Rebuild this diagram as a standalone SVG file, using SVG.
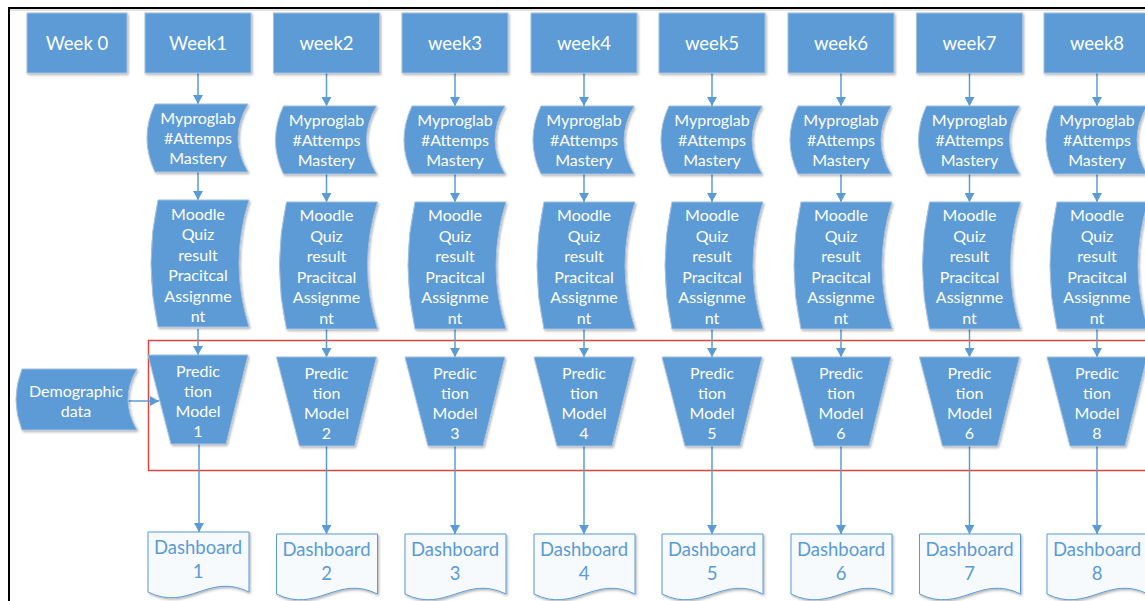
<svg xmlns="http://www.w3.org/2000/svg" xmlns:xlink="http://www.w3.org/1999/xlink" width="1145" height="601" viewBox="0 0 1145 601">
<style>
.blue{fill:#5B9BD5;stroke:#A3C0E0;stroke-width:1;filter:url(#sh)}
.doc{fill:#F6FAFD;stroke:#5B9BD5;stroke-width:1;filter:url(#sh)}
.t{font-family:Lato,"Liberation Sans",sans-serif;text-anchor:middle}
.w{fill:#FFFFFF;font-size:16px}
.wk{fill:#FFFFFF;font-size:18.5px}
.dt{fill:#5B9BD5;font-size:18.5px}
.conn{stroke:#5B9BD5;stroke-width:1.5;fill:none;marker-end:url(#ah)}
</style>
<defs>
<filter id="sh" x="-10%" y="-10%" width="130%" height="130%">
<feDropShadow dx="1.2" dy="1.5" stdDeviation="1" flood-color="#000" flood-opacity="0.3"/>
</filter>
<marker id="ah" markerUnits="userSpaceOnUse" markerWidth="9" markerHeight="10" viewBox="0 0 9 10" refX="9" refY="5" orient="auto">
<path d="M0,0 L9,5 L0,10 Z" fill="#5B9BD5"/>
</marker>
<path id="pl" d="M-43,0 L50,0 Q30,34 50,68 L-43,68 Q-59,34 -43,0 Z"/>
<path id="md" d="M-40,0 L51,0 Q31,63.5 51,127 L-40,127 Q-54,63.5 -40,0 Z"/>
<path id="tz" d="M-50,0 L50,0 L28,89 L-27,89 Z"/>
<path id="db" d="M-50,0 L51,0 L51,60 C10.6,40 -9.6,80 -50,60 Z"/>
</defs>
<rect width="1145" height="601" fill="#FFFFFF"/>
<g id="frame">
<line x1="9" y1="8" x2="1145" y2="8" stroke="#000" stroke-width="2"/>
<line x1="9" y1="7" x2="9" y2="601" stroke="#000" stroke-width="2"/>
<line x1="10" y1="10" x2="1145" y2="10" stroke="#C8C8C8" stroke-width="1"/>
</g>
<g id="red-box">
<rect x="148.5" y="340.5" width="1010" height="130" fill="none" stroke="#D9463B" stroke-width="1.5"/>
</g>
<g id="connectors">
<line class="conn" x1="198" y1="73" x2="198" y2="104"/>
<line class="conn" x1="198" y1="172" x2="198" y2="200"/>
<line class="conn" x1="198" y1="329" x2="198" y2="355"/>
<line class="conn" x1="199" y1="444" x2="199" y2="532"/>
<line class="conn" x1="326.5" y1="73" x2="326.5" y2="106"/>
<line class="conn" x1="326.5" y1="174" x2="326.5" y2="202"/>
<line class="conn" x1="326.5" y1="329" x2="326.5" y2="357"/>
<line class="conn" x1="326.5" y1="446" x2="326.5" y2="534"/>
<line class="conn" x1="455" y1="73" x2="455" y2="106"/>
<line class="conn" x1="455" y1="174" x2="455" y2="202"/>
<line class="conn" x1="455" y1="329" x2="455" y2="357"/>
<line class="conn" x1="455" y1="446" x2="455" y2="534"/>
<line class="conn" x1="584" y1="73" x2="584" y2="106"/>
<line class="conn" x1="584" y1="174" x2="584" y2="202"/>
<line class="conn" x1="584" y1="329" x2="584" y2="357"/>
<line class="conn" x1="584" y1="446" x2="584" y2="534"/>
<line class="conn" x1="712" y1="73" x2="712" y2="106"/>
<line class="conn" x1="712" y1="174" x2="712" y2="202"/>
<line class="conn" x1="712" y1="329" x2="712" y2="357"/>
<line class="conn" x1="712" y1="446" x2="712" y2="534"/>
<line class="conn" x1="841" y1="73" x2="841" y2="106"/>
<line class="conn" x1="841" y1="174" x2="841" y2="202"/>
<line class="conn" x1="841" y1="329" x2="841" y2="357"/>
<line class="conn" x1="841" y1="446" x2="841" y2="534"/>
<line class="conn" x1="969.5" y1="73" x2="969.5" y2="106"/>
<line class="conn" x1="969.5" y1="174" x2="969.5" y2="202"/>
<line class="conn" x1="969.5" y1="329" x2="969.5" y2="357"/>
<line class="conn" x1="969.5" y1="446" x2="969.5" y2="534"/>
<line class="conn" x1="1097" y1="73" x2="1097" y2="106"/>
<line class="conn" x1="1097" y1="174" x2="1097" y2="202"/>
<line class="conn" x1="1097" y1="329" x2="1097" y2="357"/>
<line class="conn" x1="1097" y1="446" x2="1097" y2="534"/>
<line class="conn" x1="128" y1="401" x2="159" y2="401"/>
</g>
<g id="week0"><rect class="blue" x="27" y="13" width="100" height="60"/><text class="t wk" x="77" y="50">Week 0</text></g>
<g id="week1"><rect class="blue" x="145" y="13" width="106" height="60"/><text class="t wk" x="198" y="50">Week1</text></g>
<g id="week2"><rect class="blue" x="273.5" y="13" width="106" height="60"/><text class="t wk" x="326.5" y="50">week2</text></g>
<g id="week3"><rect class="blue" x="402" y="13" width="106" height="60"/><text class="t wk" x="455" y="50">week3</text></g>
<g id="week4"><rect class="blue" x="531" y="13" width="106" height="60"/><text class="t wk" x="584" y="50">week4</text></g>
<g id="week5"><rect class="blue" x="659" y="13" width="106" height="60"/><text class="t wk" x="712" y="50">week5</text></g>
<g id="week6"><rect class="blue" x="788" y="13" width="106" height="60"/><text class="t wk" x="841" y="50">week6</text></g>
<g id="week7"><rect class="blue" x="916.5" y="13" width="106" height="60"/><text class="t wk" x="969.5" y="50">week7</text></g>
<g id="week8"><rect class="blue" x="1044" y="13" width="106" height="60"/><text class="t wk" x="1097" y="50">week8</text></g>

<g id="mpl1"><use class="blue" xlink:href="#pl" x="198" y="104"/><text class="t w"><tspan x="198" y="123.5">Myproglab</tspan><tspan x="198" y="143.5">#Attemps</tspan><tspan x="198" y="163.5">Mastery</tspan></text></g>
<g id="mpl2"><use class="blue" xlink:href="#pl" x="326.5" y="106"/><text class="t w"><tspan x="326.5" y="125.5">Myproglab</tspan><tspan x="326.5" y="145.5">#Attemps</tspan><tspan x="326.5" y="165.5">Mastery</tspan></text></g>
<g id="mpl3"><use class="blue" xlink:href="#pl" x="455" y="106"/><text class="t w"><tspan x="455" y="125.5">Myproglab</tspan><tspan x="455" y="145.5">#Attemps</tspan><tspan x="455" y="165.5">Mastery</tspan></text></g>
<g id="mpl4"><use class="blue" xlink:href="#pl" x="584" y="106"/><text class="t w"><tspan x="584" y="125.5">Myproglab</tspan><tspan x="584" y="145.5">#Attemps</tspan><tspan x="584" y="165.5">Mastery</tspan></text></g>
<g id="mpl5"><use class="blue" xlink:href="#pl" x="712" y="106"/><text class="t w"><tspan x="712" y="125.5">Myproglab</tspan><tspan x="712" y="145.5">#Attemps</tspan><tspan x="712" y="165.5">Mastery</tspan></text></g>
<g id="mpl6"><use class="blue" xlink:href="#pl" x="841" y="106"/><text class="t w"><tspan x="841" y="125.5">Myproglab</tspan><tspan x="841" y="145.5">#Attemps</tspan><tspan x="841" y="165.5">Mastery</tspan></text></g>
<g id="mpl7"><use class="blue" xlink:href="#pl" x="969.5" y="106"/><text class="t w"><tspan x="969.5" y="125.5">Myproglab</tspan><tspan x="969.5" y="145.5">#Attemps</tspan><tspan x="969.5" y="165.5">Mastery</tspan></text></g>
<g id="mpl8"><use class="blue" xlink:href="#pl" x="1097" y="106"/><text class="t w"><tspan x="1097" y="125.5">Myproglab</tspan><tspan x="1097" y="145.5">#Attemps</tspan><tspan x="1097" y="165.5">Mastery</tspan></text></g>

<g id="moodle1"><use class="blue" xlink:href="#md" x="198" y="200"/><text class="t w"><tspan x="198" y="219.5">Moodle</tspan><tspan x="198" y="240">Quiz</tspan><tspan x="198" y="260.5">result</tspan><tspan x="198" y="281">Pracitcal</tspan><tspan x="198" y="301.5">Assignme</tspan><tspan x="198" y="322">nt</tspan></text></g>
<g id="moodle2"><use class="blue" xlink:href="#md" x="326.5" y="202"/><text class="t w"><tspan x="326.5" y="221">Moodle</tspan><tspan x="326.5" y="241.5">Quiz</tspan><tspan x="326.5" y="262">result</tspan><tspan x="326.5" y="282.5">Pracitcal</tspan><tspan x="326.5" y="303">Assignme</tspan><tspan x="326.5" y="323.5">nt</tspan></text></g>
<g id="moodle3"><use class="blue" xlink:href="#md" x="455" y="202"/><text class="t w"><tspan x="455" y="221">Moodle</tspan><tspan x="455" y="241.5">Quiz</tspan><tspan x="455" y="262">result</tspan><tspan x="455" y="282.5">Pracitcal</tspan><tspan x="455" y="303">Assignme</tspan><tspan x="455" y="323.5">nt</tspan></text></g>
<g id="moodle4"><use class="blue" xlink:href="#md" x="584" y="202"/><text class="t w"><tspan x="584" y="221">Moodle</tspan><tspan x="584" y="241.5">Quiz</tspan><tspan x="584" y="262">result</tspan><tspan x="584" y="282.5">Pracitcal</tspan><tspan x="584" y="303">Assignme</tspan><tspan x="584" y="323.5">nt</tspan></text></g>
<g id="moodle5"><use class="blue" xlink:href="#md" x="712" y="202"/><text class="t w"><tspan x="712" y="221">Moodle</tspan><tspan x="712" y="241.5">Quiz</tspan><tspan x="712" y="262">result</tspan><tspan x="712" y="282.5">Pracitcal</tspan><tspan x="712" y="303">Assignme</tspan><tspan x="712" y="323.5">nt</tspan></text></g>
<g id="moodle6"><use class="blue" xlink:href="#md" x="841" y="202"/><text class="t w"><tspan x="841" y="221">Moodle</tspan><tspan x="841" y="241.5">Quiz</tspan><tspan x="841" y="262">result</tspan><tspan x="841" y="282.5">Pracitcal</tspan><tspan x="841" y="303">Assignme</tspan><tspan x="841" y="323.5">nt</tspan></text></g>
<g id="moodle7"><use class="blue" xlink:href="#md" x="969.5" y="202"/><text class="t w"><tspan x="969.5" y="221">Moodle</tspan><tspan x="969.5" y="241.5">Quiz</tspan><tspan x="969.5" y="262">result</tspan><tspan x="969.5" y="282.5">Pracitcal</tspan><tspan x="969.5" y="303">Assignme</tspan><tspan x="969.5" y="323.5">nt</tspan></text></g>
<g id="moodle8"><use class="blue" xlink:href="#md" x="1097" y="202"/><text class="t w"><tspan x="1097" y="221">Moodle</tspan><tspan x="1097" y="241.5">Quiz</tspan><tspan x="1097" y="262">result</tspan><tspan x="1097" y="282.5">Pracitcal</tspan><tspan x="1097" y="303">Assignme</tspan><tspan x="1097" y="323.5">nt</tspan></text></g>

<g id="demographic"><path class="blue" d="M22,369 L137,369 Q119,399.5 137,430 L22,430 Q10,399.5 22,369 Z"/><text class="t w"><tspan x="76" y="396.5">Demographic</tspan><tspan x="76" y="416.5">data</tspan></text></g>

<g id="model1"><use class="blue" xlink:href="#tz" x="198" y="355"/><text class="t w"><tspan x="198" y="377">Predic</tspan><tspan x="198" y="397">tion</tspan><tspan x="198" y="417">Model</tspan><tspan x="198" y="437">1</tspan></text></g>
<g id="model2"><use class="blue" xlink:href="#tz" x="326.5" y="357"/><text class="t w"><tspan x="326.5" y="379">Predic</tspan><tspan x="326.5" y="399">tion</tspan><tspan x="326.5" y="419">Model</tspan><tspan x="326.5" y="439">2</tspan></text></g>
<g id="model3"><use class="blue" xlink:href="#tz" x="455" y="357"/><text class="t w"><tspan x="455" y="379">Predic</tspan><tspan x="455" y="399">tion</tspan><tspan x="455" y="419">Model</tspan><tspan x="455" y="439">3</tspan></text></g>
<g id="model4"><use class="blue" xlink:href="#tz" x="584" y="357"/><text class="t w"><tspan x="584" y="379">Predic</tspan><tspan x="584" y="399">tion</tspan><tspan x="584" y="419">Model</tspan><tspan x="584" y="439">4</tspan></text></g>
<g id="model5"><use class="blue" xlink:href="#tz" x="712" y="357"/><text class="t w"><tspan x="712" y="379">Predic</tspan><tspan x="712" y="399">tion</tspan><tspan x="712" y="419">Model</tspan><tspan x="712" y="439">5</tspan></text></g>
<g id="model6"><use class="blue" xlink:href="#tz" x="841" y="357"/><text class="t w"><tspan x="841" y="379">Predic</tspan><tspan x="841" y="399">tion</tspan><tspan x="841" y="419">Model</tspan><tspan x="841" y="439">6</tspan></text></g>
<g id="model7"><use class="blue" xlink:href="#tz" x="969.5" y="357"/><text class="t w"><tspan x="969.5" y="379">Predic</tspan><tspan x="969.5" y="399">tion</tspan><tspan x="969.5" y="419">Model</tspan><tspan x="969.5" y="439">6</tspan></text></g>
<g id="model8"><use class="blue" xlink:href="#tz" x="1097" y="357"/><text class="t w"><tspan x="1097" y="379">Predic</tspan><tspan x="1097" y="399">tion</tspan><tspan x="1097" y="419">Model</tspan><tspan x="1097" y="439">8</tspan></text></g>

<g id="dash1"><use class="doc" xlink:href="#db" x="198" y="532"/><text class="t dt"><tspan x="198" y="553.5">Dashboard</tspan><tspan x="198" y="577.5">1</tspan></text></g>
<g id="dash2"><use class="doc" xlink:href="#db" x="326.5" y="534"/><text class="t dt"><tspan x="326.5" y="556">Dashboard</tspan><tspan x="326.5" y="580">2</tspan></text></g>
<g id="dash3"><use class="doc" xlink:href="#db" x="455" y="534"/><text class="t dt"><tspan x="455" y="556">Dashboard</tspan><tspan x="455" y="580">3</tspan></text></g>
<g id="dash4"><use class="doc" xlink:href="#db" x="584" y="534"/><text class="t dt"><tspan x="584" y="556">Dashboard</tspan><tspan x="584" y="580">4</tspan></text></g>
<g id="dash5"><use class="doc" xlink:href="#db" x="712" y="534"/><text class="t dt"><tspan x="712" y="556">Dashboard</tspan><tspan x="712" y="580">5</tspan></text></g>
<g id="dash6"><use class="doc" xlink:href="#db" x="841" y="534"/><text class="t dt"><tspan x="841" y="556">Dashboard</tspan><tspan x="841" y="580">6</tspan></text></g>
<g id="dash7"><use class="doc" xlink:href="#db" x="969.5" y="534"/><text class="t dt"><tspan x="969.5" y="556">Dashboard</tspan><tspan x="969.5" y="580">7</tspan></text></g>
<g id="dash8"><use class="doc" xlink:href="#db" x="1097" y="534"/><text class="t dt"><tspan x="1097" y="556">Dashboard</tspan><tspan x="1097" y="580">8</tspan></text></g>
</svg>
